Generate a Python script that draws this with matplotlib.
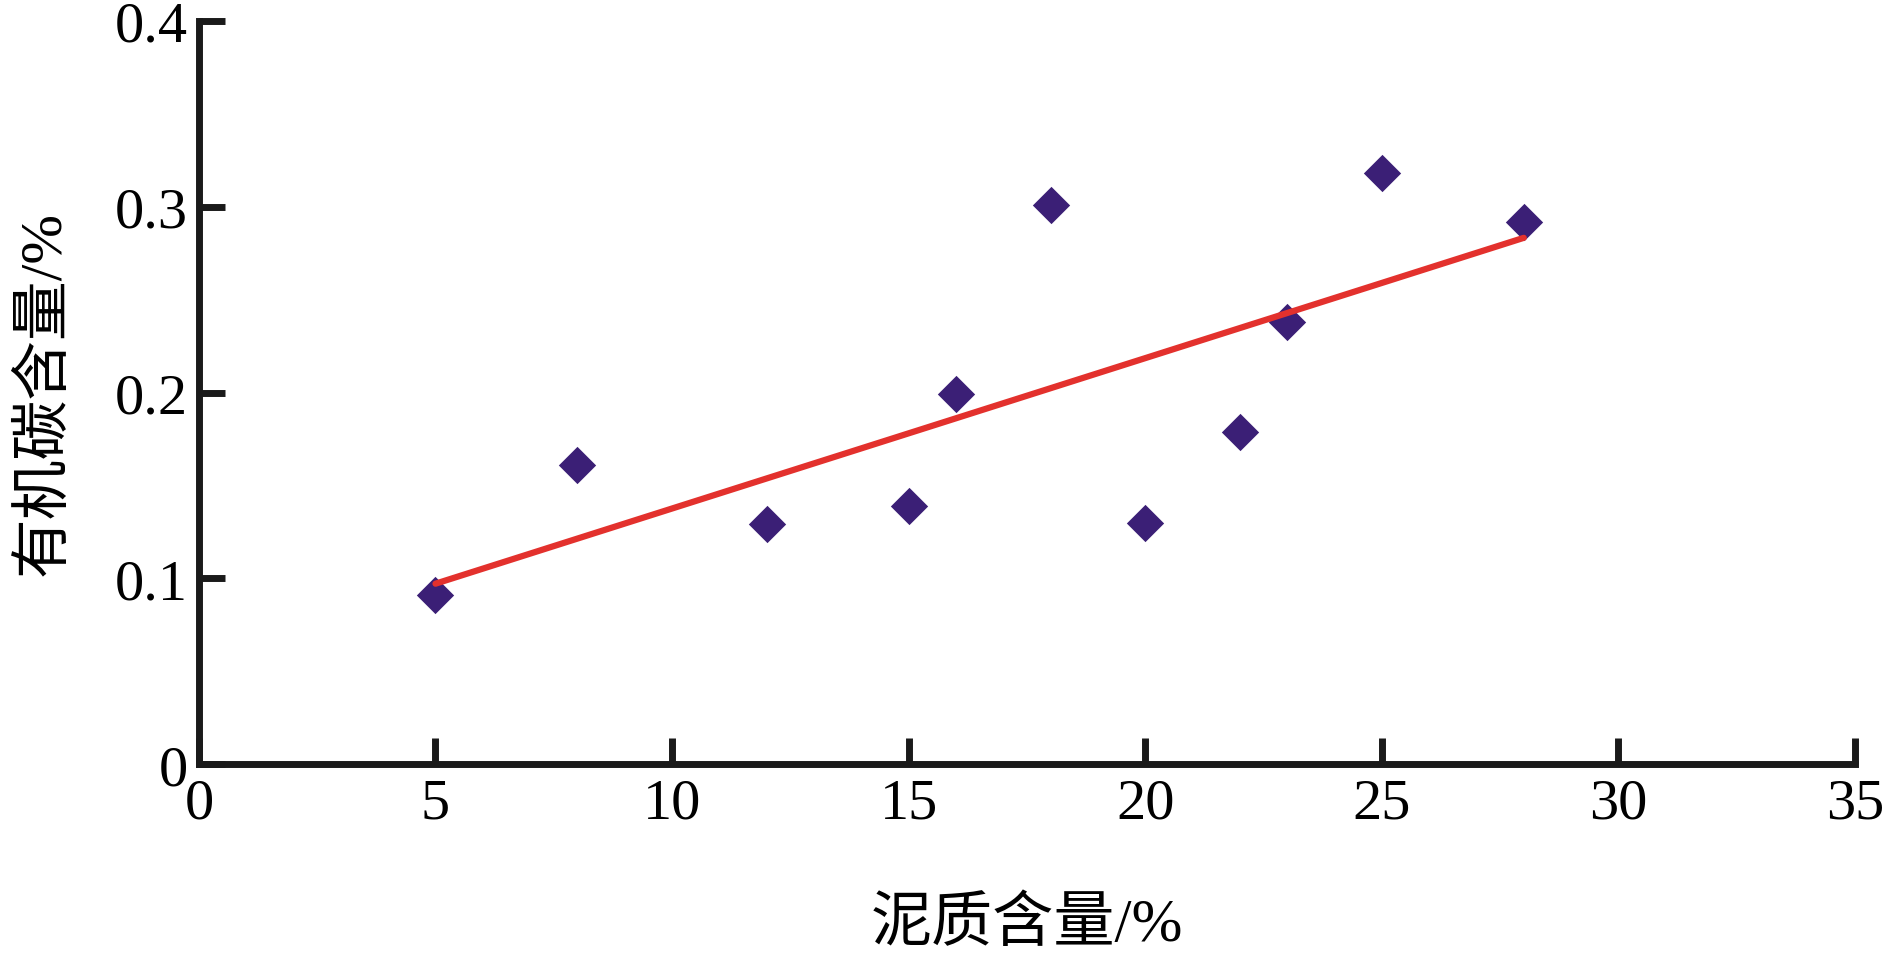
import numpy as np
import matplotlib
matplotlib.use("Agg")
import matplotlib.pyplot as plt

plt.rcParams['font.family'] = ['Liberation Serif', 'Noto Sans CJK SC']

# data
clay = [5, 8, 12, 15, 16, 18, 20, 22, 23, 25, 28]
toc = [0.091, 0.161, 0.129, 0.139, 0.199, 0.301, 0.130, 0.179, 0.238, 0.318, 0.292]
x_ticks = [0, 5, 10, 15, 20, 25, 30, 35]
y_ticks = [0, 0.1, 0.2, 0.3, 0.4]
y_tick_labels = ["0", "0.1", "0.2", "0.3", "0.4"]

fig = plt.figure(figsize=(18.89, 9.54), dpi=100)
ax = fig.add_axes([0.1053, 0.198, 0.8767, 0.779])

ax.scatter(clay, toc, marker='D', s=19**2, color='#3b1f76', linewidths=0, zorder=3)

# linear trend line over the data range
k, b = np.polyfit(clay, toc, 1)
xs = np.array([min(clay), max(clay)])
ax.plot(xs, k * xs + b, color='#e3312d', lw=4.5, solid_capstyle='round', zorder=4)

ax.set_xlim(0, 35)
ax.set_ylim(0, 0.4)
ax.set_xticks(x_ticks)
ax.set_yticks(y_ticks)
ax.set_yticklabels(y_tick_labels)

for s in ['top', 'right']:
    ax.spines[s].set_visible(False)
for s in ['left', 'bottom']:
    ax.spines[s].set_linewidth(5)
    ax.spines[s].set_color('#1a1a1a')

ax.tick_params(direction='in', length=19, width=5, color='#1a1a1a', labelsize=42)
ax.tick_params(axis='x', pad=10)
ax.tick_params(axis='y', pad=8)

ax.set_xlabel('泥质含量/%', fontsize=44, labelpad=48)
ax.set_ylabel('有机碳含量/%', fontsize=43, labelpad=30)

fig.savefig('out.png', dpi=100)
